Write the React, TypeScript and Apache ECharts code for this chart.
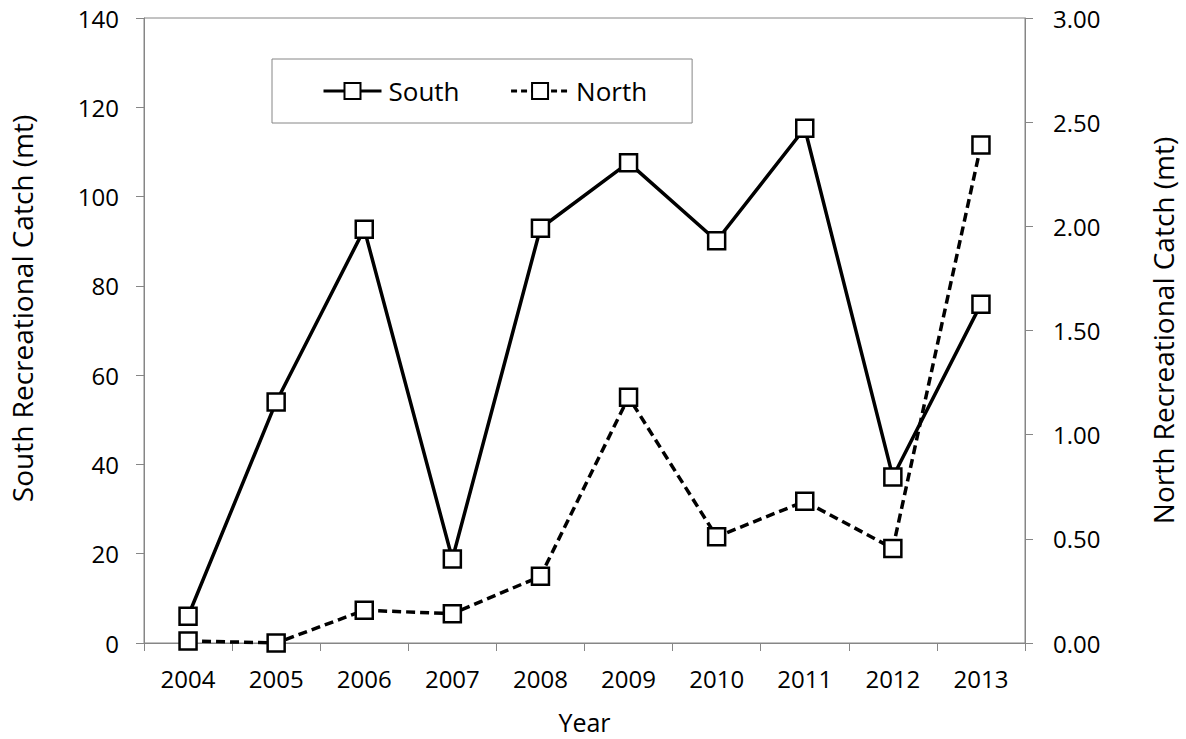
import React, { useEffect, useRef } from "react";
import * as echarts from "echarts";

const years = ["2004", "2005", "2006", "2007", "2008", "2009", "2010", "2011", "2012", "2013"];
const southCatch = [6.0, 54.0, 92.7, 18.8, 92.9, 107.6, 90.1, 115.3, 37.2, 75.9];
const northCatch = [0.01, 0.0, 0.157, 0.141, 0.32, 1.18, 0.51, 0.68, 0.454, 2.39];
const southTicks = { min: 0, max: 140, interval: 20 };
const northTicks = { min: 0, max: 3, interval: 0.5 };

const FONT = "Open Sans";
const AXIS_GRAY = "#868686";

export default function App() {
  const ref = useRef<HTMLDivElement>(null);
  useEffect(() => {
    if (!ref.current) return;
    const chart = echarts.init(ref.current, undefined, { renderer: "svg" });
    const axisLine = { show: true, lineStyle: { color: AXIS_GRAY, width: 1 } };
    const axisTick = { show: true, inside: false, length: 8, lineStyle: { color: AXIS_GRAY, width: 1 } };
    chart.setOption({
      animation: false,
      backgroundColor: "#ffffff",
      textStyle: { fontFamily: FONT },
      grid: {
        left: 144,
        right: 161,
        top: 18,
        bottom: 96,
        show: true,
        borderColor: AXIS_GRAY,
        borderWidth: 1,
        containLabel: false,
      },
      legend: {
        left: 272,
        top: 59,
        orient: "horizontal",
        padding: [19, 45, 19, 50],
        itemWidth: 58,
        itemHeight: 20,
        itemGap: 50,
        borderColor: AXIS_GRAY,
        borderWidth: 1,
        backgroundColor: "#ffffff",
        lineStyle: { width: 3 },
        textStyle: { fontFamily: FONT, fontSize: 26, color: "#000", padding: [0, 0, 0, 2] },
        data: [
          { name: "South" },
          { name: "North", lineStyle: { type: [6, 4], width: 3 } },
        ],
      },
      xAxis: {
        type: "category",
        data: years,
        boundaryGap: true,
        name: "Year",
        nameLocation: "middle",
        nameGap: 66,
        nameTextStyle: { fontFamily: FONT, fontSize: 25, color: "#000" },
        axisLine,
        axisTick: { ...axisTick, alignWithLabel: false },
        axisLabel: { fontFamily: FONT, fontSize: 24, color: "#000", margin: 23 },
        splitLine: { show: false },
      },
      yAxis: [
        {
          type: "value",
          position: "left",
          ...southTicks,
          name: "South Recreational Catch (mt)",
          nameLocation: "middle",
          nameGap: 108,
          nameRotate: 90,
          nameTextStyle: { fontFamily: FONT, fontSize: 28, color: "#000", padding: [0, 0, 0, 44] },
          axisLine,
          axisTick,
          axisLabel: { fontFamily: FONT, fontSize: 24, color: "#000", margin: 25 },
          splitLine: { show: false },
        },
        {
          type: "value",
          position: "right",
          ...northTicks,
          name: "North Recreational Catch (mt)",
          nameLocation: "middle",
          nameGap: 124,
          nameRotate: 90,
          nameTextStyle: { fontFamily: FONT, fontSize: 28, color: "#000" },
          axisLine,
          axisTick,
          axisLabel: {
            fontFamily: FONT,
            fontSize: 24,
            color: "#000",
            margin: 28,
            formatter: (v: number) => v.toFixed(2),
          },
          splitLine: { show: false },
        },
      ],
      series: [
        {
          name: "South",
          type: "line",
          yAxisIndex: 0,
          data: southCatch,
          symbol: "rect",
          symbolSize: 17,
          lineStyle: { color: "#000", width: 3.5, type: "solid" },
          itemStyle: { color: "#ffffff", borderColor: "#000", borderWidth: 2.5 },
          z: 3,
        },
        {
          name: "North",
          type: "line",
          yAxisIndex: 1,
          data: northCatch,
          symbol: "rect",
          symbolSize: 17,
          lineStyle: { color: "#000", width: 3.5, type: [9, 5] },
          itemStyle: { color: "#ffffff", borderColor: "#000", borderWidth: 2.5 },
          z: 4,
        },
      ],
    });
    return () => chart.dispose();
  }, []);
  return (
    <div
      ref={ref}
      style={{ position: "fixed", left: 0, top: 0, width: 1186, height: 739, background: "#fff" }}
    />
  );
}
